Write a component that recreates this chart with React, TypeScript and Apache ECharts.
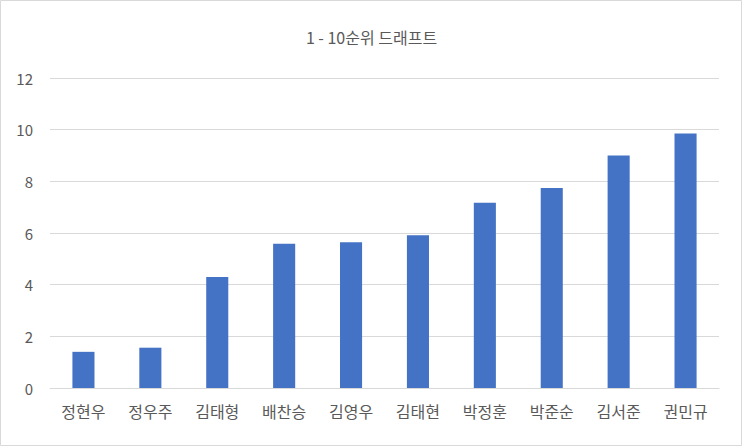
import React, { useEffect, useRef } from "react";
import * as echarts from "echarts";

const title = "1 - 10순위 드래프트";
const categories = ["정현우", "정우주", "김태형", "배찬승", "김영우", "김태현", "박정훈", "박준순", "김서준", "권민규"];
const values = [1.4, 1.56, 4.3, 5.58, 5.64, 5.91, 7.17, 7.74, 9.0, 9.85];
const yMin = 0;
const yMax = 12;
const yStep = 2;

export default function App() {
  const ref = useRef<HTMLDivElement>(null);
  useEffect(() => {
    if (!ref.current) return;
    const chart = echarts.init(ref.current, null, { renderer: "svg" });
    const font = "'Noto Sans CJK KR', 'Noto Sans', sans-serif";
    chart.setOption({
      animation: false,
      backgroundColor: "#ffffff",
      title: {
        text: title,
        left: "center",
        top: 24,
        textStyle: { color: "#595959", fontSize: 16, fontWeight: "normal", fontFamily: font },
      },
      graphic: [
        {
          type: "rect",
          shape: { x: 0.5, y: 0.5, width: 741, height: 445 },
          style: { fill: "none", stroke: "#d9d9d9", lineWidth: 1 },
          silent: true,
        },
      ],
      grid: { left: 50, right: 24, top: 78, bottom: 59 },
      xAxis: {
        type: "category",
        data: categories,
        axisLine: { lineStyle: { color: "#d9d9d9", width: 1 } },
        axisTick: { show: false },
        axisLabel: { color: "#595959", fontSize: 16, margin: 15, fontFamily: font },
      },
      yAxis: {
        type: "value",
        min: yMin,
        max: yMax,
        interval: yStep,
        axisLine: { show: false },
        axisTick: { show: false },
        splitLine: { lineStyle: { color: "#d9d9d9", width: 1 } },
        axisLabel: { color: "#595959", fontSize: 15, margin: 17, fontFamily: font },
      },
      series: [
        {
          type: "bar",
          data: values,
          barWidth: "33%",
          itemStyle: { color: "#4472c4" },
        },
      ],
    });
    return () => chart.dispose();
  }, []);
  return (
    <div
      ref={ref}
      style={{ position: "fixed", left: 0, top: 0, width: 743, height: 447 }}
    />
  );
}
